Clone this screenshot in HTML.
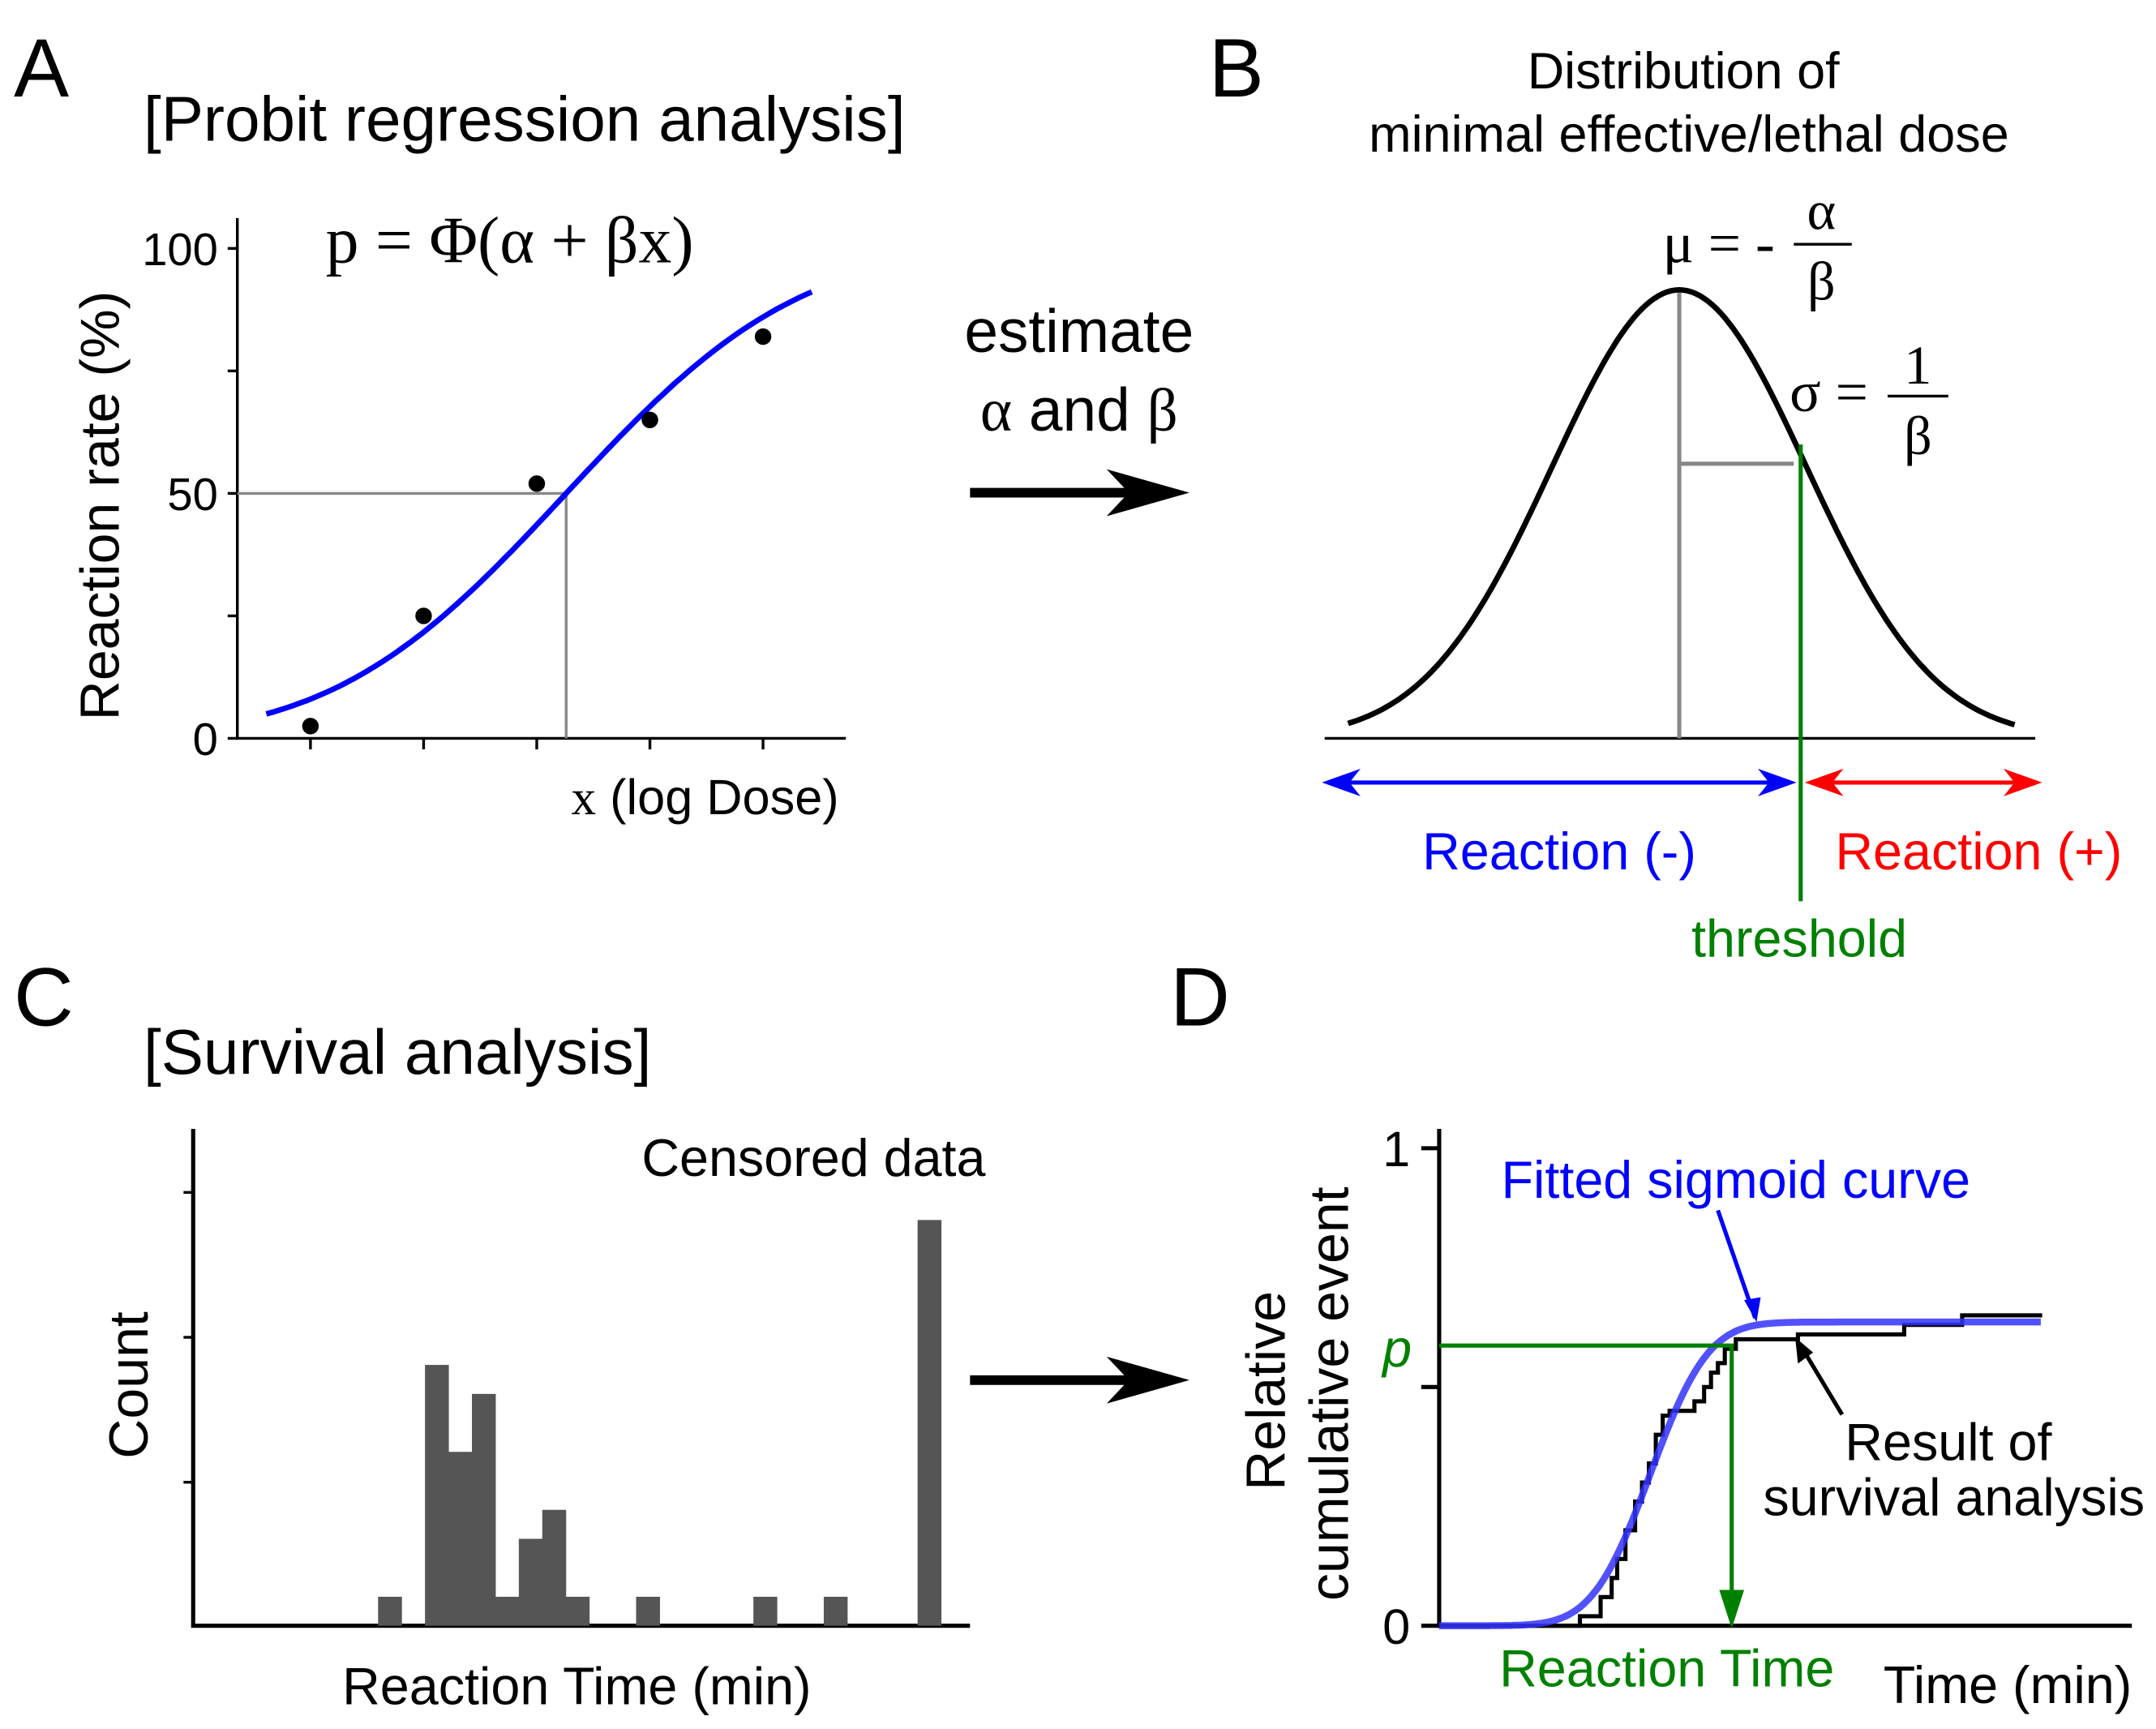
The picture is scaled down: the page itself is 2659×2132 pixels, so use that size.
<!DOCTYPE html>
<html><head><meta charset="utf-8"><style>
html,body{margin:0;padding:0;background:#fff;}
svg{display:block;}
text{font-family:"Liberation Sans",sans-serif;}
.serif{font-family:"Liberation Serif",serif;}
</style></head><body>
<svg id="fig" width="2659" height="2132" viewBox="0 0 1562.5 1252.8">
<!-- Panel A -->
<text x="10" y="70" font-size="60">A</text>
<text x="104" y="102" font-size="46">[Probit regression analysis]</text>
<text class="serif" x="236" y="190" font-size="48">p = Φ(α + βx)</text>
<text x="0" y="0" font-size="40" transform="translate(86,522) rotate(-90)">Reaction rate (%)</text>
<text x="414" y="590" font-size="36"><tspan class="serif">x</tspan> (log Dose)</text>
<g id="panelA"></g>
<!-- arrow 1 -->
<text x="782" y="255" font-size="44" text-anchor="middle">estimate</text>
<text x="782" y="312" font-size="44" text-anchor="middle"><tspan class="serif">α</tspan> and <tspan class="serif">β</tspan></text>
<line x1="703" y1="357" x2="820" y2="357" stroke="#000" stroke-width="7"/>
<path d="M802,340L862,357L802,374L818,357z" fill="#000"/>
<!-- Panel B -->
<text x="876" y="70" font-size="60">B</text>
<text x="1220" y="64" font-size="37" text-anchor="middle">Distribution of</text>
<text x="1224" y="110" font-size="37" text-anchor="middle">minimal effective/lethal dose</text>
<text class="serif" x="1205" y="190" font-size="42">μ = -</text>
<text class="serif" x="1320" y="166" font-size="40" text-anchor="middle">α</text>
<line x1="1300" y1="177" x2="1342" y2="177" stroke="#000" stroke-width="2"/>
<text class="serif" x="1320" y="217" font-size="40" text-anchor="middle">β</text>
<text class="serif" x="1297" y="298" font-size="42">σ =</text>
<text class="serif" x="1390" y="278" font-size="40" text-anchor="middle">1</text>
<line x1="1368" y1="287" x2="1412" y2="287" stroke="#000" stroke-width="2"/>
<text class="serif" x="1390" y="329" font-size="40" text-anchor="middle">β</text>
<g id="panelB"></g>
<text x="1130" y="630" font-size="38" fill="#0000ff" text-anchor="middle">Reaction (-)</text>
<text x="1434" y="630" font-size="38" fill="#ff0000" text-anchor="middle">Reaction (+)</text>
<text x="1304" y="693" font-size="38" fill="#008000" text-anchor="middle">threshold</text>
<!-- Panel C -->
<text x="10" y="743" font-size="60">C</text>
<text x="104" y="778" font-size="46">[Survival analysis]</text>
<text x="465" y="852" font-size="38">Censored data</text>
<text x="0" y="0" font-size="40" transform="translate(107,1057) rotate(-90)">Count</text>
<text x="418" y="1235" font-size="38" text-anchor="middle">Reaction Time (min)</text>
<g id="panelC"></g>
<line x1="703" y1="1000" x2="820" y2="1000" stroke="#000" stroke-width="7"/>
<path d="M802,983L862,1000L802,1017L818,1000z" fill="#000"/>
<!-- Panel D -->
<text x="848" y="743" font-size="60">D</text>
<text x="0" y="0" font-size="40" transform="translate(931,1080) rotate(-90)">Relative</text>
<text x="0" y="0" font-size="40" transform="translate(977,1160) rotate(-90)">cumulative event</text>
<text x="1258" y="868" font-size="38" fill="#0000ff" text-anchor="middle">Fitted sigmoid curve</text>
<text x="1412" y="1058" font-size="38" text-anchor="middle">Result of</text>
<text x="1416" y="1098" font-size="38" text-anchor="middle">survival analysis</text>
<text x="1208" y="1222" font-size="38" fill="#008000" text-anchor="middle">Reaction Time</text>
<text x="1455" y="1234" font-size="38" text-anchor="middle">Time (min)</text>
<text x="1002" y="990" font-size="38" fill="#008000" font-style="italic">p</text>
<g id="panelD"></g>
</svg>
<script>
const NS=document.getElementById('fig').namespaceURI;
function mk(parent,tag,attrs){const e=document.createElementNS(NS,tag);for(const k in attrs)e.setAttribute(k,attrs[k]);parent.appendChild(e);return e;}
// ---- Panel A data ----
const doseIndex=[1,2,3,4,5];
const reactionRate=[2.5,25,52,65,82];
const yTicksA=[0,50,100];
const probitMean=3.26, probitSd=1.61;
// ---- Panel C data ----
const histCounts=[1,0,9,6,8,1,3,4,1,0,0,1,0,0,0,0,1,0,0,1,0,0,0,14];
// ---- Panel D data ----
const stepTimes=[1145,1160,1168,1172,1178,1185,1190,1195,1200,1205,1210,1228,1235,1240,1245,1250,1258,1303,1380,1422];
const stepFrac=[0.02,0.06,0.1,0.14,0.2,0.26,0.3,0.34,0.4,0.44,0.45,0.47,0.5,0.53,0.55,0.58,0.6,0.61,0.63,0.65];
const sigMax=0.636, sigMid=1196, sigScale=33;

function erf(x){const s=Math.sign(x);x=Math.abs(x);const t=1/(1+0.3275911*x);const y=1-(((((1.061405429*t-1.453152027)*t)+1.421413741)*t-0.284496736)*t+0.254829592)*t*Math.exp(-x*x);return s*y;}
function Phi(z){return 0.5*(1+erf(z/Math.SQRT2));}

// Panel A
(function(){
 const g=document.getElementById('panelA');
 const xA=i=>225+(i-1)*82, yA=v=>535-v*3.55;
 const ax=mk(g,'path',{d:'M172,158V535H613',fill:'none',stroke:'#000','stroke-width':2});
 
 
 [0,25,50,75,100].forEach(v=>mk(g,'line',{x1:165,x2:172,y1:yA(v),y2:yA(v),stroke:'#000','stroke-width':2}));
 yTicksA.forEach(v=>{const t=mk(g,'text',{x:158,y:yA(v)+12,'font-size':33,'text-anchor':'end'});t.textContent=String(v);
  
  });
 doseIndex.forEach(i=>mk(g,'line',{x1:xA(i),x2:xA(i),y1:535,y2:543,stroke:'#000','stroke-width':2}));
 const xm=xA(probitMean);
 mk(g,'path',{d:'M172,'+yA(50)+'H'+xm+'V535',fill:'none',stroke:'#888','stroke-width':2});
 let d='';for(let i=0;i<=80;i++){const u=0.61+i*(5.43-0.61)/80;d+=(i?'L':'M')+xA(u).toFixed(1)+','+yA(100*Phi((u-probitMean)/probitSd)).toFixed(1);}
 const c=mk(g,'path',{d:d,fill:'none',stroke:'#0000ff','stroke-width':4});
 
 
 doseIndex.forEach((i,k)=>{const p=mk(g,'circle',{cx:xA(i),cy:yA(reactionRate[k]),r:6,fill:'#000'});
  
  });
})();
// Panel B
(function(){
 const g=document.getElementById('panelB');
 mk(g,'line',{x1:960,x2:1475,y1:535,y2:535,stroke:'#000','stroke-width':2});
 const mu=1217,sig=92,h=325;
 let d='';for(let x=977;x<=1460;x+=3){d+=(x===977?'M':'L')+x+','+(535-h*Math.exp(-(x-mu)*(x-mu)/(2*sig*sig))).toFixed(1);}
 const c=mk(g,'path',{d:d,fill:'none',stroke:'#000','stroke-width':4});
 
 
 mk(g,'line',{x1:mu,x2:mu,y1:212,y2:535,stroke:'#888','stroke-width':3});
 mk(g,'line',{x1:mu,x2:1300,y1:336,y2:336,stroke:'#888','stroke-width':3});
 const th=mk(g,'line',{x1:1305,x2:1305,y1:322,y2:653,stroke:'#008000','stroke-width':3});
 
 
 function darrow(x1,x2,col){mk(g,'line',{x1:x1+10,x2:x2-10,y1:567,y2:567,stroke:col,'stroke-width':3});
  mk(g,'path',{d:'M'+x1+',567L'+(x1+28)+',557L'+(x1+20)+',567L'+(x1+28)+',577z',fill:col});
  mk(g,'path',{d:'M'+x2+',567L'+(x2-28)+',557L'+(x2-20)+',567L'+(x2-28)+',577z',fill:col});}
 darrow(958,1302,'#0000ff');darrow(1308,1480,'#ff0000');
})();
// Panel C
(function(){
 const g=document.getElementById('panelC');
 mk(g,'path',{d:'M140,818V1178H703',fill:'none',stroke:'#000','stroke-width':3});
 [864,969,1074].forEach(y=>mk(g,'line',{x1:133,x2:140,y1:y,y2:y,stroke:'#000','stroke-width':2}));
 const bx=i=>274+i*17, by=v=>1178-v*21;
 histCounts.forEach((v,i)=>{if(!v)return;const r=mk(g,'rect',{x:bx(i),y:by(v),width:17.3,height:1178-by(v),fill:'#555'});
  
  });
})();
// Panel D
(function(){
 const g=document.getElementById('panelD');
 const yD=f=>1178-f*346;
 mk(g,'path',{d:'M1043,818V1178H1545',fill:'none',stroke:'#000','stroke-width':3});
 [[0,'0'],[0.5,''],[1,'1']].forEach(function(a){const f=a[0],l=a[1];mk(g,'line',{x1:1030,x2:1043,y1:yD(f),y2:yD(f),stroke:'#000','stroke-width':3});
  if(l){const t=mk(g,'text',{x:1022,y:yD(f)+13,'font-size':36,'text-anchor':'end'});t.textContent=l;
   
   }});
 let d='M1043,1178';
 stepTimes.forEach((t,i)=>{d+='H'+t+'V'+yD(stepFrac[i]).toFixed(1);});
 d+='H1480';
 const s=mk(g,'path',{d:d,fill:'none',stroke:'#000','stroke-width':3});
 
 
 let e='';for(let x=1043;x<=1480;x+=2){const f=sigMax*Phi((x-sigMid)/sigScale);e+=(x===1043?'M':'L')+x+','+yD(f).toFixed(1);}
 const c=mk(g,'path',{d:e,fill:'none',stroke:'#3333ff','stroke-opacity':0.85,'stroke-width':5});
 
 
 mk(g,'path',{d:'M1043,975H1255V1160',fill:'none',stroke:'#008000','stroke-width':3});
 mk(g,'path',{d:'M1246,1152L1255,1180L1264,1152z',fill:'#008000'});
 mk(g,'line',{x1:1245,x2:1272,y1:877,y2:955,stroke:'#0000ff','stroke-width':3});
 mk(g,'path',{d:'M1264,942L1273,958L1276,940z',fill:'#0000ff'});
 mk(g,'line',{x1:1335,x2:1305,y1:1025,y2:975,stroke:'#000','stroke-width':3});
 mk(g,'path',{d:'M1301,969L1303,988L1314,980z',fill:'#000'});
})();
</script>
</body></html>
